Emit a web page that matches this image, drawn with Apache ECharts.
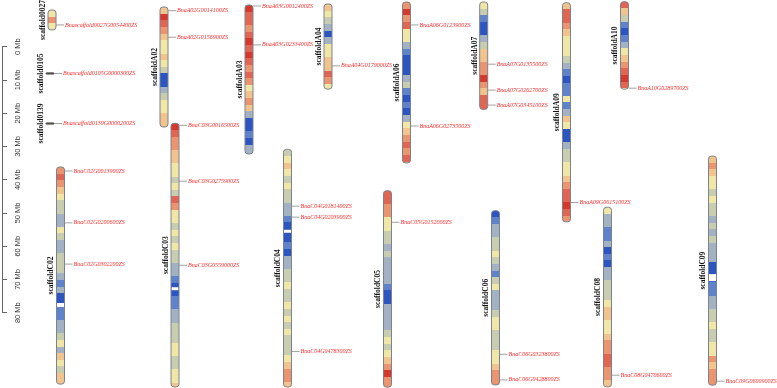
<!DOCTYPE html>
<html>
<head>
<meta charset="utf-8">
<script src="https://cdn.jsdelivr.net/npm/echarts@6/dist/echarts.min.js"></script>
<style>
html,body{margin:0;padding:0;background:#fff;}
#main{width:777px;height:388px;}
</style>
</head>
<body>
<div id="main"></div>
<script>
// chromosomes (length in Mb)
var chromNames = ['scaffold0027', 'scaffold0105', 'scaffold0139', 'scaffoldC02', 'scaffoldA02', 'scaffoldC03', 'scaffoldA03', 'scaffoldC04', 'scaffoldA04',
	'scaffoldC05', 'scaffoldA06', 'scaffoldC06', 'scaffoldA07', 'scaffoldA09', 'scaffoldC08', 'scaffoldA10', 'scaffoldC09'];
var chromLengths = [6, 0.3, 0.3, 65.3, 36.1, 79.3, 44.8, 71.5, 25.6, 59.1, 48.4, 52.4, 32.3, 65.9, 54.0, 26.3, 68.9];

// gene density per 2 Mb bin (1 = low ... 9 = high)
var BIN = 2;
var densityS0027 = [5, 7, 5];
var densityS0105 = [5];
var densityS0139 = [5];
var densityC02 = [7, 8, 7, 6, 5, 4, 4, 3, 3, 5, 4, 3, 3, 4, 4, 4, 3, 2, 3, 1, 1, 2, 2, 3, 3, 4, 5, 3, 6, 5, 4, 6, 6];
var densityA02 = [6, 9, 8, 7, 6, 5, 5, 6, 5, 4, 1, 1, 3, 4, 5, 5, 6, 6];
var densityC03 = [9, 8, 7, 7, 6, 6, 5, 5, 4, 5, 4, 8, 7, 5, 5, 4, 5, 4, 5, 4, 4, 3, 3, 2, 1, 1, 2, 2, 3, 3, 4, 4, 4, 5, 5, 4, 4, 5, 5, 6];
var densityA03 = [9, 8, 8, 7, 8, 9, 8, 9, 8, 7, 8, 7, 5, 6, 7, 6, 3, 1, 1, 2, 1, 3, 3];
var densityC04 = [4, 5, 6, 5, 4, 5, 4, 4, 3, 3, 2, 1, 1, 1, 2, 1, 3, 3, 4, 4, 5, 4, 4, 5, 4, 5, 4, 5, 4, 4, 4, 5, 6, 7, 7, 6];
var densityA04 = [6, 5, 4, 3, 1, 3, 5, 5, 6, 6, 8, 7, 5];
var densityC05 = [8, 8, 7, 7, 5, 5, 4, 4, 3, 4, 3, 3, 3, 3, 2, 1, 1, 3, 3, 3, 3, 4, 5, 4, 5, 6, 7, 9, 7, 7];
var densityA06 = [7, 9, 7, 8, 5, 5, 3, 2, 1, 1, 1, 3, 4, 2, 1, 2, 1, 3, 5, 6, 7, 8, 7, 8, 6];
var densityC06 = [1, 2, 3, 3, 4, 4, 5, 4, 3, 2, 4, 5, 3, 3, 3, 4, 5, 5, 4, 4, 4, 5, 5, 6, 7, 7, 7];
var densityA07 = [5, 4, 2, 1, 1, 3, 4, 6, 6, 7, 7, 9, 7, 6, 8, 8, 8];
var densityA09 = [6, 8, 8, 7, 6, 5, 5, 5, 4, 3, 2, 1, 2, 2, 5, 2, 3, 6, 5, 1, 1, 3, 4, 4, 5, 5, 6, 7, 8, 8, 9, 8, 7];
var densityC08 = [5, 3, 3, 2, 2, 3, 1, 2, 1, 3, 3, 4, 4, 4, 5, 6, 6, 5, 5, 6, 7, 7, 8, 8, 7, 7, 6];
var densityA10 = [8, 6, 4, 2, 1, 2, 3, 5, 6, 7, 8, 9, 8, 5];
var densityC09 = [6, 7, 6, 5, 5, 4, 5, 4, 4, 3, 4, 3, 4, 3, 3, 3, 1, 1, 1, 2, 2, 3, 3, 4, 4, 5, 4, 4, 5, 5, 7, 6, 7, 7, 7];
var densityByChrom = [densityS0027, densityS0105, densityS0139, densityC02, densityA02, densityC03, densityA03, densityC04, densityA04,
	densityC05, densityA06, densityC06, densityA07, densityA09, densityC08, densityA10, densityC09];

// regions without data (Mb)
var gapChrom = ['scaffoldC02', 'scaffoldC03', 'scaffoldC04', 'scaffoldC09'];
var gapStart = [40.9, 49.3, 24.2, 35.5];
var gapEnd = [42.1, 50.2, 25.1, 37.6];

// marked genes (position in Mb)
var geneNames = ['Bnascaffold0027G0054400ZS', 'Bnascaffold0105G0000300ZS', 'Bnascaffold0139G0000200ZS',
	'BnaA02G0014100ZS', 'BnaA02G0156900ZS', 'BnaA03G0012400ZS', 'BnaA03G0233400ZS', 'BnaA04G0179000ZS',
	'BnaA06G0123900ZS', 'BnaA06G0273500ZS', 'BnaA07G0135500ZS', 'BnaA07G0262700ZS', 'BnaA07G0345100ZS',
	'BnaA09G0615100ZS', 'BnaA10G0289700ZS',
	'BnaC02G0013900ZS', 'BnaC02G0200600ZS', 'BnaC02G0302200ZS', 'BnaC03G0016500ZS', 'BnaC03G0275900ZS', 'BnaC03G0559000ZS',
	'BnaC04G0181400ZS', 'BnaC04G0203900ZS', 'BnaC04G0478300ZS', 'BnaC05G0152000ZS', 'BnaC06G0323800ZS', 'BnaC06G0428800ZS',
	'BnaC08G0470600ZS', 'BnaC09G0600900ZS'];
var geneChrom = ['scaffold0027', 'scaffold0105', 'scaffold0139',
	'scaffoldA02', 'scaffoldA02', 'scaffoldA03', 'scaffoldA03', 'scaffoldA04',
	'scaffoldA06', 'scaffoldA06', 'scaffoldA07', 'scaffoldA07', 'scaffoldA07',
	'scaffoldA09', 'scaffoldA10',
	'scaffoldC02', 'scaffoldC02', 'scaffoldC02', 'scaffoldC03', 'scaffoldC03', 'scaffoldC03',
	'scaffoldC04', 'scaffoldC04', 'scaffoldC04', 'scaffoldC05', 'scaffoldC06', 'scaffoldC06',
	'scaffoldC08', 'scaffoldC09'];
var genePos = [4.5, 0.15, 0.15,
	1.1, 9.1, 0.3, 12.0, 18.6,
	6.9, 37.3, 18.7, 26.5, 31.0,
	60.1, 26.0,
	1.2, 16.8, 29.2, 0.6, 17.4, 42.7,
	17.1, 20.4, 60.8, 9.5, 43.2, 50.9,
	50.5, 67.7];

// scale ticks
var scaleMax = 80;
var scaleStep = 10;

// layout: column x (px) and start of each chromosome on the Mb scale
var layoutX = [52, 50, 50, 60.5, 164, 175, 249, 287.5, 328, 387.5, 406.5, 495.5, 483.7, 566.5, 607.5, 624.5, 712.5];
var layoutTop = [-11.04, 7.9, 22.95, 36.18, -11.94, 23.04, -12.54, 30.86, -12.84, 43.31, -13.44, 49.32, -13.44, -13.23, 48.30, -13.53, 32.9];

var palette = ['#2c55c1', '#5f83cb', '#a3b2c3', '#c8cdb0', '#f0e7a6', '#f0c48c', '#ea9570', '#e06552', '#d5392d'];

var bandColor = function(v){
	return echarts.color.lerp((v - 1) / (palette.length - 1), palette);
};

var renderChrom = function(params, api){
	var i = api.value(3);
	var name = chromNames[i];
	var top = api.value(1);
	var len = api.value(2);
	var p0 = api.coord([api.value(0), top]);
	var p1 = api.coord([api.value(0), top + len]);
	var h = Math.max(p1[1] - p0[1], 1);
	var w = 8;
	var x = p0[0] - w / 2;

	var vals = densityByChrom[i];
	var stops = [];
	for (var k = 0; k < vals.length; k++) {
		var c = bandColor(vals[k]);
		stops.push({offset: Math.min(k * BIN / len, 1), color: c});
		stops.push({offset: Math.min((k + 1) * BIN / len, 1), color: c});
	}

	var children = [];
	children.push({
		type: 'rect',
		shape: {x: x, y: p0[1], width: w, height: h, r: 3},
		style: {fill: new echarts.graphic.LinearGradient(0, 0, 0, 1, stops)}
	});
	for (var g = 0; g < gapChrom.length; g++) {
		if (gapChrom[g] !== name) continue;
		var a = api.coord([0, top + gapStart[g]]);
		var b = api.coord([0, top + gapEnd[g]]);
		children.push({
			type: 'rect',
			shape: {x: x + 0.5, y: a[1], width: w - 1, height: b[1] - a[1]},
			style: {fill: '#ffffff'}
		});
	}
	// tiny scaffolds show up as a dark dash
	children.push({
		type: 'rect',
		shape: {x: x, y: p0[1], width: w, height: h, r: 3},
		style: {fill: 'none', stroke: h < 2 ? '#222' : '#7c838e', lineWidth: 1}
	});

	// gene marks
	for (var j = 0; j < geneNames.length; j++) {
		if (geneChrom[j] !== name) continue;
		var gy = api.coord([0, top + genePos[j]])[1];
		children.push({
			type: 'line',
			shape: {x1: x + w, y1: gy, x2: x + w + 8, y2: gy},
			style: {stroke: '#8a8a8a', lineWidth: 0.8}
		});
		children.push({
			type: 'text',
			x: x + w + 9,
			y: gy,
			style: {text: geneNames[j], fill: '#ff2b2b', font: 'italic 6px "Liberation Serif"', align: 'left', verticalAlign: 'middle'}
		});
	}

	// chromosome name
	children.push({
		type: 'text',
		x: p0[0] - 9,
		y: (p0[1] + p1[1]) / 2,
		rotation: Math.PI / 2,
		style: {text: name, fill: '#111', font: 'bold 7.5px "Liberation Serif"', align: 'center', verticalAlign: 'middle'}
	});

	return {type: 'group', children: children};
};

var chromData = [];
for (var i = 0; i < chromNames.length; i++) {
	chromData.push([layoutX[i], layoutTop[i], chromLengths[i], i]);
}

var chart = echarts.init(document.getElementById('main'));
chart.setOption({
	animation: false,
	backgroundColor: '#ffffff',
	grid: [
		{left: 0, right: 0, top: 0, bottom: 0},
		{left: 2, top: 46.7, height: 266, width: 1}
	],
	xAxis: [
		{gridIndex: 0, type: 'value', min: 0, max: 777, show: false},
		{gridIndex: 1, type: 'value', min: 0, max: 1, show: false}
	],
	yAxis: [
		{gridIndex: 0, type: 'value', min: -14.045, max: 102.65, inverse: true, show: false},
		{
			gridIndex: 1, type: 'value', min: 0, max: scaleMax, interval: scaleStep, inverse: true,
			axisLine: {show: true, lineStyle: {color: '#666', width: 1}},
			axisTick: {show: true, inside: true, length: 5, lineStyle: {color: '#666'}},
			axisLabel: {inside: true, rotate: 90, margin: 12, formatter: '{value} Mb', color: '#333', fontSize: 7.5, fontFamily: 'Liberation Sans'},
			splitLine: {show: false}
		}
	],
	series: [{
		type: 'custom',
		xAxisIndex: 0,
		yAxisIndex: 0,
		silent: true,
		renderItem: renderChrom,
		data: chromData
	}]
});
</script>
</body>
</html>
